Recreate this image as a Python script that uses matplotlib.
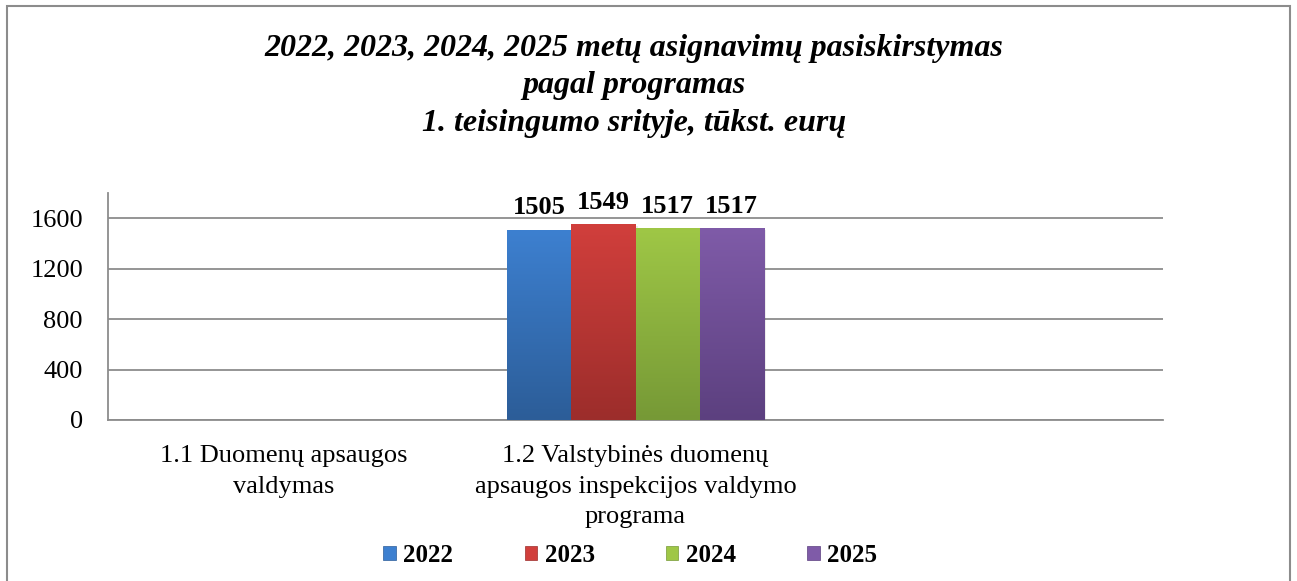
import numpy as np
import matplotlib
matplotlib.use("Agg")
import matplotlib.pyplot as plt
from matplotlib.colors import LinearSegmentedColormap
from matplotlib.patches import Rectangle, Patch

# duomenys
categories = ["1.1 Duomenų apsaugos\nvaldymas",
              "1.2 Valstybinės duomenų\napsaugos inspekcijos valdymo\nprograma",
              ""]
years = ["2022", "2023", "2024", "2025"]
v2022 = [np.nan, 1505, np.nan]
v2023 = [np.nan, 1549, np.nan]
v2024 = [np.nan, 1517, np.nan]
v2025 = [np.nan, 1517, np.nan]
series = [v2022, v2023, v2024, v2025]

# spalvos (virsus, apacia)
colors = [("#3d80d0", "#2c5d98"),
          ("#d13f3c", "#9c2d2b"),
          ("#9fc746", "#769936"),
          ("#7f5ba8", "#5c407f")]

plt.rcParams["font.family"] = ["Liberation Serif", "DejaVu Serif"]

fig = plt.figure(figsize=(12.97, 5.81), dpi=100)
ax = fig.add_axes([108 / 1297, 1 - 420 / 581, (1163 - 108) / 1297, (420 - 193) / 581])

x = np.arange(len(categories))
w = 0.182
for i, (vals, (ctop, cbot)) in enumerate(zip(series, colors)):
    pos = x + (i - 1.5) * w
    cmap = LinearSegmentedColormap.from_list("g%d" % i, [cbot, ctop])
    for p, v in zip(pos, vals):
        if np.isnan(v):
            continue
        left = p - w / 2
        # lengvas seseliukas
        ax.add_patch(Rectangle((left + 0.006, 0), w, v - 10, color="#000000",
                               alpha=0.07, lw=0, zorder=2))
        grad = np.linspace(0, 1, 256).reshape(-1, 1)
        ax.imshow(grad, cmap=cmap, origin="lower", aspect="auto",
                  extent=(left, left + w, 0, v), zorder=3)
        ax.text(p, v + 85, "%d" % v, ha="center", va="bottom",
                fontsize=19, fontweight="bold", zorder=4)

ax.set_xlim(-0.5, 2.5)
ax.set_ylim(0, 1800)
ax.set_yticks([0, 400, 800, 1200, 1600])
ax.yaxis.grid(True, color="#8c8c8c", lw=1.3)
ax.set_axisbelow(True)
ax.set_xticks(x)
ax.set_xticklabels(categories, fontsize=19, linespacing=1.5)
ax.tick_params(axis="both", length=0, labelsize=19)
ax.tick_params(axis="y", pad=18)
ax.tick_params(axis="x", pad=18)
for s in ["top", "right"]:
    ax.spines[s].set_visible(False)
ax.spines["left"].set_color("#8c8c8c")
ax.spines["left"].set_linewidth(1.3)
ax.spines["bottom"].set_color("#8c8c8c")
ax.spines["bottom"].set_linewidth(1.3)

fig.text(0.4885, 1 - 86 / 581,
         "2022, 2023, 2024, 2025 metų asignavimų pasiskirstymas\npagal programas\n1. teisingumo srityje, tūkst. eurų",
         ha="center", va="center", fontsize=23, fontweight="bold",
         fontstyle="italic", linespacing=1.38)

handles = [Patch(facecolor=c[0], edgecolor=c[1], lw=0.5) for c in colors]
fig.legend(handles, years, loc="center", bbox_to_anchor=(0.486, 1 - 555 / 581),
           ncol=4, frameon=False, prop={"weight": "bold", "size": 18},
           handlelength=0.5, handleheight=0.5, handletextpad=0.3,
           columnspacing=2.85)

# ramelis
fig.patches.append(Rectangle((7 / 1297, -0.05), (1290 - 7) / 1297, 1.05 - 6 / 581,
                             transform=fig.transFigure, fill=False,
                             edgecolor="#8c8c8c", lw=1.5))

fig.savefig("out.png", dpi=100)
